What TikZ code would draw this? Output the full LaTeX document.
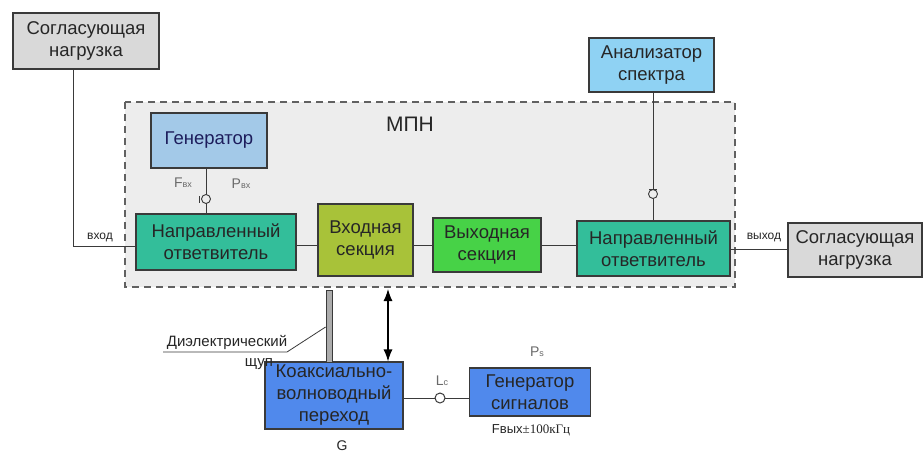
\documentclass[tikz,border=0pt]{standalone}
\usepackage{fontspec}
\setmainfont{Liberation Sans}
\newfontfamily\serifpart{Liberation Serif}
\usetikzlibrary{arrows.meta,calc}

\definecolor{loadgray}{HTML}{D9D9D9}
\definecolor{regiongray}{HTML}{EDEDED}
\definecolor{genblue}{HTML}{A3C9E8}
\definecolor{anblue}{HTML}{8FD2F3}
\definecolor{coupler}{HTML}{33BE9A}
\definecolor{insec}{HTML}{A8C239}
\definecolor{outsec}{HTML}{47D247}
\definecolor{coaxblue}{HTML}{5089EC}
\definecolor{edge}{HTML}{3A3A3A}
\definecolor{txt}{HTML}{262626}
\definecolor{lbl}{HTML}{6A6A6A}

\tikzset{
  blk/.style={draw=edge, line width=1.1pt, align=center, inner sep=1pt,
    text=txt, font=\fontsize{18.5}{22}\selectfont},
  wire/.style={draw=edge, line width=0.9pt},
  small/.style={font=\fontsize{12}{14}\selectfont, text=txt},
  tag/.style={font=\fontsize{14}{16}\selectfont, text=lbl},
  plug/.style={draw=edge, line width=0.9pt, fill=regiongray},
  bigtip/.tip={Latex[length=12pt,width=9pt]},
}

\begin{document}
\begin{tikzpicture}[x=1pt,y=-1pt]
\useasboundingbox (0,0) rectangle (923,452);
\fill[white] (0,0) rectangle (923,452);

% МПН region
\draw[draw=edge!80, fill=regiongray, line width=1.2pt, dash pattern=on 7pt off 5pt]
  (125,102) rectangle (735,287);
\node[font=\fontsize{21}{24}\selectfont, text=txt] (mpn) at (410,124) {МПН};

% blocks
\node[blk, fill=loadgray, minimum width=146pt, minimum height=56pt] (load1) at (86,41) {Согласующая\\нагрузка};
\node[blk, fill=genblue, minimum width=116pt, minimum height=55pt, text=txt!75!blue] (gen) at (209,140.5) {Генератор};
\node[blk, fill=coupler, minimum width=160pt, minimum height=56pt] (ho1) at (216,242) {Направленный\\ответвитель};
\node[blk, fill=insec, minimum width=95pt, minimum height=72pt] (inp) at (365.5,240) {Входная\\секция};
\node[blk, fill=outsec, minimum width=108pt, minimum height=54pt] (out) at (487,245) {Выходная\\секция};
\node[blk, fill=coupler, minimum width=153pt, minimum height=55pt] (ho2) at (653.5,248.5) {Направленный\\ответвитель};
\node[blk, fill=anblue, minimum width=125pt, minimum height=54pt] (an) at (651.5,65) {Анализатор\\спектра};
\node[blk, fill=loadgray, minimum width=134pt, minimum height=54pt] (load2) at (855,250) {Согласующая\\нагрузка};
\node[blk, fill=coaxblue, minimum width=138pt, minimum height=67pt] (coax) at (334,395.5) {Коаксиально-\\волноводный\\переход};
\node[blk, fill=coaxblue, minimum width=121pt, minimum height=48pt] (sgen) at (530,392) {Генератор\\сигналов};

% connections inside and around the region
\coordinate (inTurn) at (73,246);
\draw[wire] (load1.south -| inTurn) -- (inTurn) -- (inTurn -| ho1.west);
\node[small] (vin) at (100,237) {вход};

\draw[wire] ([xshift=-3pt]gen.south) -- ([xshift=-3pt]gen.south |- ho1.north);
\node[plug, circle, inner sep=0pt, minimum size=9pt] (c1) at (206,199) {};
\draw[wire] ([xshift=-2pt]c1.west) -- ++(0,-3.5) ([xshift=-2pt]c1.west) -- ++(0,3.5);
\node[tag] (fin) at (183,183) {F{\fontsize{9}{10}\selectfont вх}};
\node[tag] (pin) at (241,184) {P{\fontsize{9}{10}\selectfont вх}};

\draw[wire] (ho1.east |- 0,245) -- (inp.west |- 0,245);
\draw[wire] (inp.east |- 0,245) -- (out.west |- 0,245);
\draw[wire] (out.east |- 0,245) -- (ho2.west |- 0,245);

\draw[wire] (an.south -| 653,0) -- (ho2.north -| 653,0);
\node[plug, circle, inner sep=0pt, minimum size=9pt] (c2) at (653,194) {};
\draw[wire] ([xshift=-4pt]c2.north) -- ([xshift=4pt]c2.north);

\draw[wire] (ho2.east |- 0,249) -- (load2.west |- 0,249);
\node[small] (vout) at (764,237) {выход};

% lower part: probe, coupling, signal generator
\node[draw=edge, line width=0.8pt, fill=gray!65, minimum width=6pt, minimum height=72pt, inner sep=0pt] (rod) at (329,326) {};
\node[font=\fontsize{15}{17}\selectfont, text=txt] (dlab) at (227,342) {Диэлектрический};
\node[font=\fontsize{15}{17}\selectfont, text=txt] (dlab2) at (259,364) {щуп};
\draw[draw=edge, line width=0.8pt] (163,352) -- (287,352) -- (rod.west |- 0,327);

\coordinate (arrTop) at (388,289);
\draw[draw=black, line width=1.2pt, bigtip-bigtip]
  (arrTop) -- (arrTop |- coax.north);

\draw[wire] (coax.east |- 0,398) -- (sgen.west |- 0,398);
\node[draw=edge, line width=1pt, fill=white, circle, inner sep=0pt, minimum size=10pt] (c3) at (440,398) {};
\node[tag] (lc) at (442,381) {L{\fontsize{9}{10}\selectfont c}};
\node[tag] (ps) at (537,352) {P{\fontsize{9}{10}\selectfont s}};
\node[font=\fontsize{13}{15}\selectfont, text=txt] (fout) at (531,430) {Fвых{\serifpart ±100кГц}};
\node[tag, text=txt] (g) at (342,446) {G};
\end{tikzpicture}
\end{document}
